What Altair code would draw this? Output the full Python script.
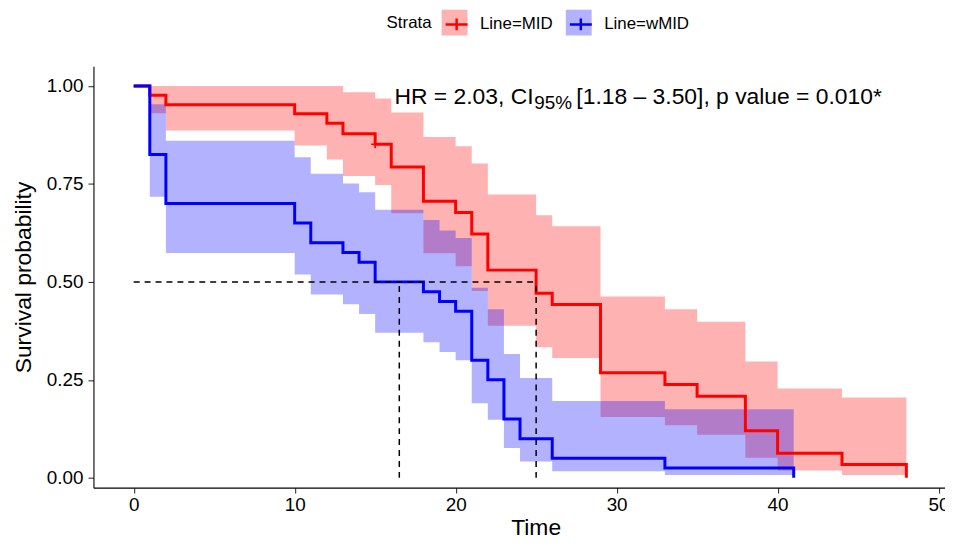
import altair as alt
import pandas as pd

# ---------------- data ----------------
strata = ["Line=MID", "Line=wMID"]
colors = ["#FF0000", "#0000FF"]

red_time = [0, 1, 2, 10, 12, 13, 15, 16, 18, 20, 21, 22, 25, 26, 29, 33, 35, 38, 40, 44, 48]
red_surv = [1.0, 0.976, 0.952, 0.929, 0.905, 0.878, 0.851, 0.793, 0.706, 0.677, 0.622,
            0.530, 0.471, 0.442, 0.268, 0.238, 0.208, 0.120, 0.063, 0.034, 0.0]
red_upper = [1.0, 1.0, 1.0, 1.0, 1.0, 0.984, 0.968, 0.932, 0.870, 0.846, 0.802,
             0.723, 0.670, 0.642, 0.463, 0.430, 0.398, 0.297, 0.228, 0.205]
red_lower = [1.0, 0.930, 0.886, 0.848, 0.812, 0.770, 0.747, 0.675, 0.573, 0.540, 0.477,
             0.388, 0.333, 0.306, 0.155, 0.134, 0.110, 0.051, 0.019, 0.007]

blue_time = [0, 1, 2, 10, 11, 13, 14, 15, 18, 19, 20, 21, 22, 23, 24, 26, 33, 41]
blue_surv = [1.0, 0.825, 0.700, 0.650, 0.600, 0.575, 0.550, 0.500, 0.475, 0.450, 0.425,
             0.300, 0.250, 0.150, 0.100, 0.050, 0.025, 0.0]
blue_upper = [1.0, 0.953, 0.860, 0.818, 0.776, 0.751, 0.729, 0.684, 0.658, 0.631, 0.612,
              0.485, 0.430, 0.316, 0.255, 0.196, 0.175]
blue_lower = [1.0, 0.717, 0.574, 0.519, 0.468, 0.443, 0.418, 0.370, 0.346, 0.321, 0.300,
              0.190, 0.148, 0.076, 0.042, 0.017, 0.007]

censor_time = [15]
censor_surv = [0.851]

median_time = [16.5, 25.0]
median_level = 0.5

x_ticks = [0, 10, 20, 30, 40, 50]
y_ticks = [0.0, 0.25, 0.50, 0.75, 1.00]

ann_main = "HR = 2.03, CI"
ann_sub = "95%"
ann_rest = "[1.18 \u2013 3.50], p value = 0.010*"

# ---------------- tables ----------------
line_rows, band_rows = [], []
for name, times, surv, up, lo in [
    (strata[0], red_time, red_surv, red_upper, red_lower),
    (strata[1], blue_time, blue_surv, blue_upper, blue_lower),
]:
    for t, s in zip(times, surv):
        line_rows.append({"strata": name, "time": t, "surv": s})
    for t, u, l in zip(times[:-1], up, lo):
        band_rows.append({"strata": name, "time": t, "upper": u, "lower": l})
    band_rows.append({"strata": name, "time": times[-1], "upper": up[-1], "lower": lo[-1]})

lines_df = pd.DataFrame(line_rows)
bands_df = pd.DataFrame(band_rows)
censor_df = pd.DataFrame({"time": censor_time, "surv": censor_surv})
hmed_df = pd.DataFrame({"x": [0.0], "x2": [max(median_time)], "y": [median_level]})
vmed_df = pd.DataFrame({"x": median_time, "y": [0.0] * len(median_time),
                        "y2": [median_level] * len(median_time)})
ann_df = pd.DataFrame({"x": [16.2, 27.5], "y": [0.953, 0.953], "t": [ann_main, ann_rest]})
sub_df = pd.DataFrame({"x": [24.88], "y": [0.953], "t": [ann_sub]})

FONT = "Liberation Sans"
PLOT_W, PLOT_H = 857, 424
PLOT_TOP = 57

xscale = alt.Scale(domain=[-2.5, 50.4], nice=False, zero=False)
yscale = alt.Scale(domain=[-0.025, 1.05], nice=False, zero=False)

x_axis = alt.Axis(values=x_ticks, title="Time", titleX=445, titleY=47,
                  titleBaseline="alphabetic", titleAlign="center")
y_axis = alt.Axis(values=y_ticks, format=".2f", title="Survival probability",
                  titleX=-63, titleY=PLOT_H / 2, titleAngle=270,
                  titleAlign="center", titleBaseline="alphabetic")

X = alt.X("time:Q", scale=xscale, axis=x_axis)

fill_legend = alt.Legend(
    title=None, orient="none", legendX=350.4, legendY=-PLOT_TOP,
    direction="horizontal", symbolType="square", symbolSize=676,
    symbolOpacity=0.3, symbolStrokeWidth=0, labelExpr="''",
    labelOffset=9, columnPadding=90, padding=0,
)
stroke_legend = alt.Legend(
    title="Strata", orient="none", legendX=295, legendY=-PLOT_TOP,
    direction="horizontal", symbolType="M-0.85,0H0.85M0,-0.45V0.45",
    symbolSize=676, symbolStrokeWidth=2.5, symbolFillColor="transparent",
    labelFontSize=17, titleFontSize=17, titleFontWeight="normal",
    titleOrient="left", titlePadding=10, titleBaseline="middle",
    labelOffset=9, columnPadding=11, padding=0, labelColor="#000000",
    titleColor="#000000",
)

bands = alt.Chart(bands_df).mark_area(interpolate="step-after", opacity=0.3).encode(
    x=X,
    y=alt.Y("upper:Q", scale=yscale, axis=y_axis),
    y2="lower:Q",
    fill=alt.Fill("strata:N", scale=alt.Scale(domain=strata, range=colors),
                  legend=fill_legend),
)

lines = alt.Chart(lines_df).mark_line(interpolate="step-after", strokeWidth=3).encode(
    x=X,
    y=alt.Y("surv:Q", scale=yscale),
    stroke=alt.Stroke("strata:N", scale=alt.Scale(domain=strata, range=colors),
                      legend=stroke_legend),
)

censor = alt.Chart(censor_df).mark_point(
    shape="M-1,0H1M0,-1V1", size=64, filled=False, strokeWidth=1.6, opacity=1
).encode(x="time:Q", y="surv:Q", color=alt.value(colors[0]))

hmed = alt.Chart(hmed_df).mark_rule(strokeDash=[6, 5], strokeWidth=1.5, color="#000000").encode(
    x="x:Q", x2="x2:Q", y="y:Q")
vmed = alt.Chart(vmed_df).mark_rule(strokeDash=[6, 5], strokeWidth=1.5, color="#000000").encode(
    x="x:Q", y="y:Q", y2="y2:Q")

ann = alt.Chart(ann_df).mark_text(
    align="left", baseline="alphabetic", fontSize=23, font=FONT, color="#000000"
).encode(x="x:Q", y="y:Q", text="t:N")
sub = alt.Chart(sub_df).mark_text(
    align="left", baseline="alphabetic", fontSize=19, font=FONT, color="#000000", dy=5
).encode(x="x:Q", y="y:Q", text="t:N")

chart = alt.layer(bands, lines, censor, hmed, vmed, ann, sub).resolve_scale(
    fill="independent", stroke="independent"
).properties(
    width=PLOT_W, height=PLOT_H,
    autosize=alt.AutoSizeParams(type="none"),
    padding={"left": 86, "top": PLOT_TOP, "right": 0, "bottom": 52},
).configure(font=FONT).configure_view(stroke=None).configure_axis(
    grid=False, labelFontSize=19, labelColor="#000000", titleFontSize=23,
    titleFontWeight="normal", titleColor="#000000", domainColor="#000000",
    domainWidth=1.1, tickColor="#333333", tickWidth=1.1, tickSize=5.5,
    labelPadding=3, labelFont=FONT, titleFont=FONT,
).configure_axisY(labelPadding=5).configure_legend(labelFont=FONT, titleFont=FONT)

chart.save("out.html", embed_options={"renderer": "svg", "actions": False})
